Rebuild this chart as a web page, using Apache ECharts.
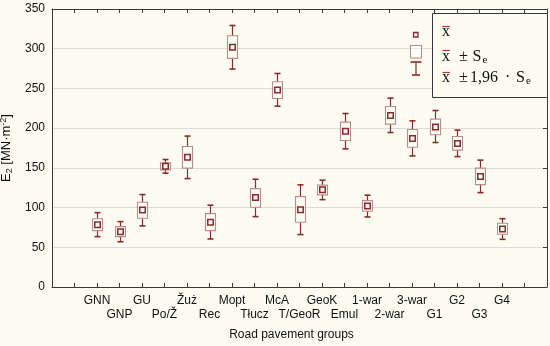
<!DOCTYPE html>
<html>
<head>
<meta charset="utf-8">
<script src="https://cdn.jsdelivr.net/npm/echarts@6/dist/echarts.min.js"></script>
<style>
html,body{margin:0;padding:0;background:#fdfcf2;}
#chart{width:550px;height:346px;}
</style>
</head>
<body>
<div id="chart"></div>
<script>
const groups = ['GNN','GNP','GU','Po/Ž','Žuż','Rec','Mopt','Tłucz','McA','T/GeoR','GeoK','Emul','1-war','2-war','3-war','G1','G2','G3','G4'];
const means       = [78.5, 69.7, 97.0, 152.0, 163.5, 81.5, 302.0, 112.6, 248.0, 97.4, 122.3, 196.2, 102.0, 216.0, 187.0, 201.3, 180.6, 139.0, 73.1];
const boxLow      = [71.0, 63.4, 86.6, 147.5, 149.6, 71.0, 287.8, 100.4, 237.3, 81.5, 116.0, 184.4, 95.4, 205.0, 176.0, 191.6, 172.3, 128.9, 66.4];
const boxHigh     = [86.0, 76.0, 106.7, 156.3, 176.8, 92.4, 316.4, 123.9, 258.4, 113.8, 128.2, 207.6, 108.8, 227.3, 198.3, 211.4, 189.4, 149.6, 80.3];
const whiskerLow  = [63.4, 57.0, 76.9, 143.3, 136.5, 60.5, 274.4, 88.6, 227.7, 66.0, 110.0, 173.9, 88.2, 194.5, 165.0, 181.9, 164.2, 118.8, 60.0];
const whiskerHigh = [93.6, 82.3, 116.4, 160.5, 190.0, 103.0, 329.3, 135.7, 268.8, 128.6, 134.5, 218.4, 115.6, 237.8, 209.2, 222.2, 197.5, 159.7, 86.0];
const yTicks = [0, 50, 100, 150, 200, 250, 300, 350];

const axisCats = ['', ''].concat(groups, ['', '']);
const BG = '#fdfcf2';
const DARK = '#8a2a2a';
const BOXC = '#b98c8c';
const AX = '#3a3a3a';
const SANS = '"Liberation Sans", Arial, sans-serif';

const data = groups.map((g, i) => [g, whiskerLow[i], boxLow[i], means[i], boxHigh[i], whiskerHigh[i]]);

function renderItem(params, api) {
  const x = api.value(0);
  const pWL = api.coord([x, api.value(1)]);
  const pBL = api.coord([x, api.value(2)]);
  const pM  = api.coord([x, api.value(3)]);
  const pBH = api.coord([x, api.value(4)]);
  const pWH = api.coord([x, api.value(5)]);
  const cx = Math.round(pM[0]) + 0.5;
  const bw = 10, cw = 6, ms = 5.5;
  const line = (x1, y1, x2, y2, c, w) => ({type: 'line', shape: {x1, y1, x2, y2}, style: {stroke: c, lineWidth: w}});
  return {
    type: 'group',
    children: [
      line(cx, pWH[1], cx, pBH[1], DARK, 1.2),
      line(cx, pBL[1], cx, pWL[1], DARK, 1.2),
      line(cx - cw/2, pWH[1], cx + cw/2, pWH[1], DARK, 1.6),
      line(cx - cw/2, pWL[1], cx + cw/2, pWL[1], DARK, 1.6),
      {type: 'rect', shape: {x: cx - bw/2, y: pBH[1], width: bw, height: pBL[1] - pBH[1]},
       style: {fill: 'rgba(255,255,255,0.35)', stroke: BOXC, lineWidth: 1.1}},
      {type: 'rect', shape: {x: cx - ms/2, y: pM[1] - ms/2, width: ms, height: ms},
       style: {fill: '#fffafa', stroke: DARK, lineWidth: 1.5}}
    ]
  };
}

const chart = echarts.init(document.getElementById('chart'));
const serif = '"Liberation Serif", "DejaVu Serif", serif';

const legendRows = [
  {y: 32, barY: 26.5},
  {y: 57, barY: 50.5},
  {y: 78, barY: 72.5}
];
const graphics = [
  {type: 'rect', shape: {x: 432.5, y: 13.5, width: 115, height: 84}, style: {fill: BG, stroke: AX, lineWidth: 1}, z: 10},
  {type: 'rect', shape: {x: 413.5, y: 32.5, width: 4.5, height: 4.5}, style: {fill: '#fffafa', stroke: DARK, lineWidth: 1.3}, z: 10},
  {type: 'rect', shape: {x: 410.5, y: 45.5, width: 11, height: 12.5}, style: {fill: 'rgba(255,255,255,0.4)', stroke: BOXC, lineWidth: 1.1}, z: 10},
  {type: 'line', shape: {x1: 410.5, y1: 62, x2: 421.5, y2: 62}, style: {stroke: DARK, lineWidth: 1.6}, z: 10},
  {type: 'line', shape: {x1: 416, y1: 62, x2: 416, y2: 75}, style: {stroke: DARK, lineWidth: 1.2}, z: 10},
  {type: 'line', shape: {x1: 412, y1: 75, x2: 420, y2: 75}, style: {stroke: DARK, lineWidth: 1.6}, z: 10}
];
legendRows.forEach(r => {
  graphics.push({type: 'text', x: 442, y: r.y, style: {text: 'x', font: '16px ' + serif, fill: '#111', verticalAlign: 'middle'}, z: 11});
  graphics.push({type: 'line', shape: {x1: 442.5, y1: r.barY, x2: 450, y2: r.barY}, style: {stroke: '#b03a3a', lineWidth: 1.2}, z: 11});
});
const legendPieces = [
  {t: '±', x: 459, y: 57, s: 16},
  {t: 'S', x: 472.5, y: 57, s: 16},
  {t: 'e', x: 482.5, y: 60, s: 11},
  {t: '±', x: 459, y: 78, s: 16},
  {t: '1,96', x: 470, y: 78, s: 16},
  {t: '·', x: 505, y: 78, s: 16},
  {t: 'S', x: 516, y: 78, s: 16},
  {t: 'e', x: 526, y: 81, s: 11}
];
legendPieces.forEach(p => {
  graphics.push({type: 'text', x: p.x, y: p.y, style: {text: p.t, font: p.s + 'px ' + serif, fill: '#111', verticalAlign: 'middle'}, z: 11});
});

chart.setOption({
  backgroundColor: BG,
  animation: false,
  grid: {left: 52, right: 3, top: 9, bottom: 59, show: false, containLabel: false, outerBoundsMode: 'none'},
  xAxis: [
    {
      type: 'category', data: axisCats, boundaryGap: false,
      name: 'Road pavement groups', nameLocation: 'middle', nameGap: 42,
      nameTextStyle: {fontFamily: SANS, fontSize: 12, color: '#111', padding: [0, 16, 0, 0]},
      axisLine: {show: true, onZero: false, lineStyle: {color: AX, width: 1}},
      axisTick: {show: true, inside: true, interval: 0, length: 4, lineStyle: {color: AX}},
      axisLabel: {
        show: true, interval: 0, margin: 7, lineHeight: 14,
        fontFamily: SANS, fontSize: 12, color: '#111',
        formatter: function (v, i) { return ((i - 2) % 2 === 1) ? '\n' + v : v; }
      },
      splitLine: {show: false}
    },
    {
      type: 'category', data: axisCats, boundaryGap: false, position: 'top',
      axisLine: {show: true, onZero: false, lineStyle: {color: AX, width: 1}},
      axisTick: {show: true, inside: true, interval: 0, length: 4, lineStyle: {color: AX}},
      axisLabel: {show: false}, splitLine: {show: false}
    }
  ],
  yAxis: [
    {
      type: 'value', min: yTicks[0], max: yTicks[yTicks.length - 1], interval: 50,
      name: 'E{sub|2} [MN·m{sup|-2}]', nameLocation: 'middle', nameGap: 30, nameRotate: 90,
      nameTextStyle: {
        fontFamily: SANS, fontSize: 13, color: '#111', lineHeight: 16,
        rich: {
          sub: {fontFamily: SANS, fontSize: 9, color: '#111', padding: [6, 0, 0, 0]},
          sup: {fontFamily: SANS, fontSize: 9, color: '#111', padding: [0, 0, 6, 0]}
        }
      },
      axisLine: {show: true, lineStyle: {color: AX, width: 1}},
      axisTick: {show: false},
      axisLabel: {margin: 7, fontFamily: SANS, fontSize: 12, color: '#111'},
      splitLine: {show: true, lineStyle: {color: '#dcdcdc', width: 1}}
    },
    {
      type: 'value', min: yTicks[0], max: yTicks[yTicks.length - 1], interval: 50, position: 'right',
      axisLine: {show: true, lineStyle: {color: AX, width: 1}},
      axisTick: {show: true, inside: true, length: 4, lineStyle: {color: AX}},
      axisLabel: {show: false}, splitLine: {show: false}
    }
  ],
  series: [{
    type: 'custom', xAxisIndex: 0, yAxisIndex: 0,
    renderItem: renderItem,
    encode: {x: 0, y: [1, 2, 3, 4, 5]},
    data: data, z: 5
  }],
  graphic: graphics
});
</script>
</body>
</html>
